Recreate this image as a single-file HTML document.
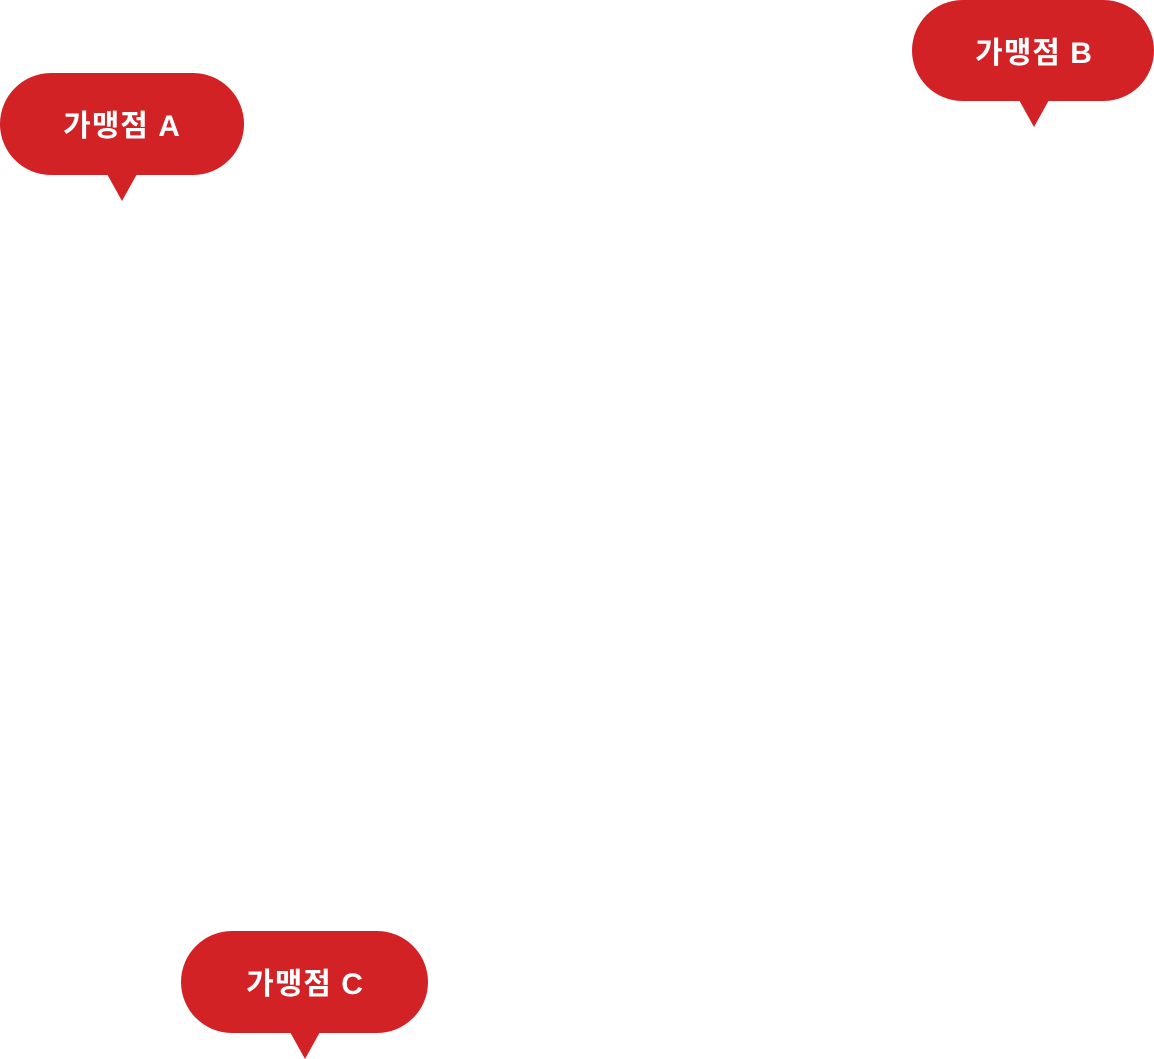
<!DOCTYPE html>
<html><head><meta charset="utf-8"><style>
html,body{margin:0;padding:0;background:#fff;width:1154px;height:1059px;overflow:hidden}
svg{display:block}
text{font-family:"Liberation Sans","Noto Sans CJK KR",sans-serif;font-weight:bold;font-size:30px;letter-spacing:1px;fill:#fff}
</style></head><body>
<svg width="1154" height="1059" viewBox="0 0 1154 1059">
<g fill="#d22226">
<rect x="0" y="73" width="244" height="102" rx="51"/>
<polygon points="107,174 137,174 122,201"/>
<rect x="912" y="0" width="242" height="101" rx="50.5"/>
<polygon points="1019,100 1049,100 1034,127"/>
<rect x="181" y="931" width="247" height="102" rx="51"/>
<polygon points="290,1032 320,1032 305,1059"/>
</g>
<text x="122" y="136" text-anchor="middle">가맹점 A</text>
<text x="1034" y="63" text-anchor="middle">가맹점 B</text>
<text x="305" y="994" text-anchor="middle">가맹점 C</text>
</svg>
</body></html>
